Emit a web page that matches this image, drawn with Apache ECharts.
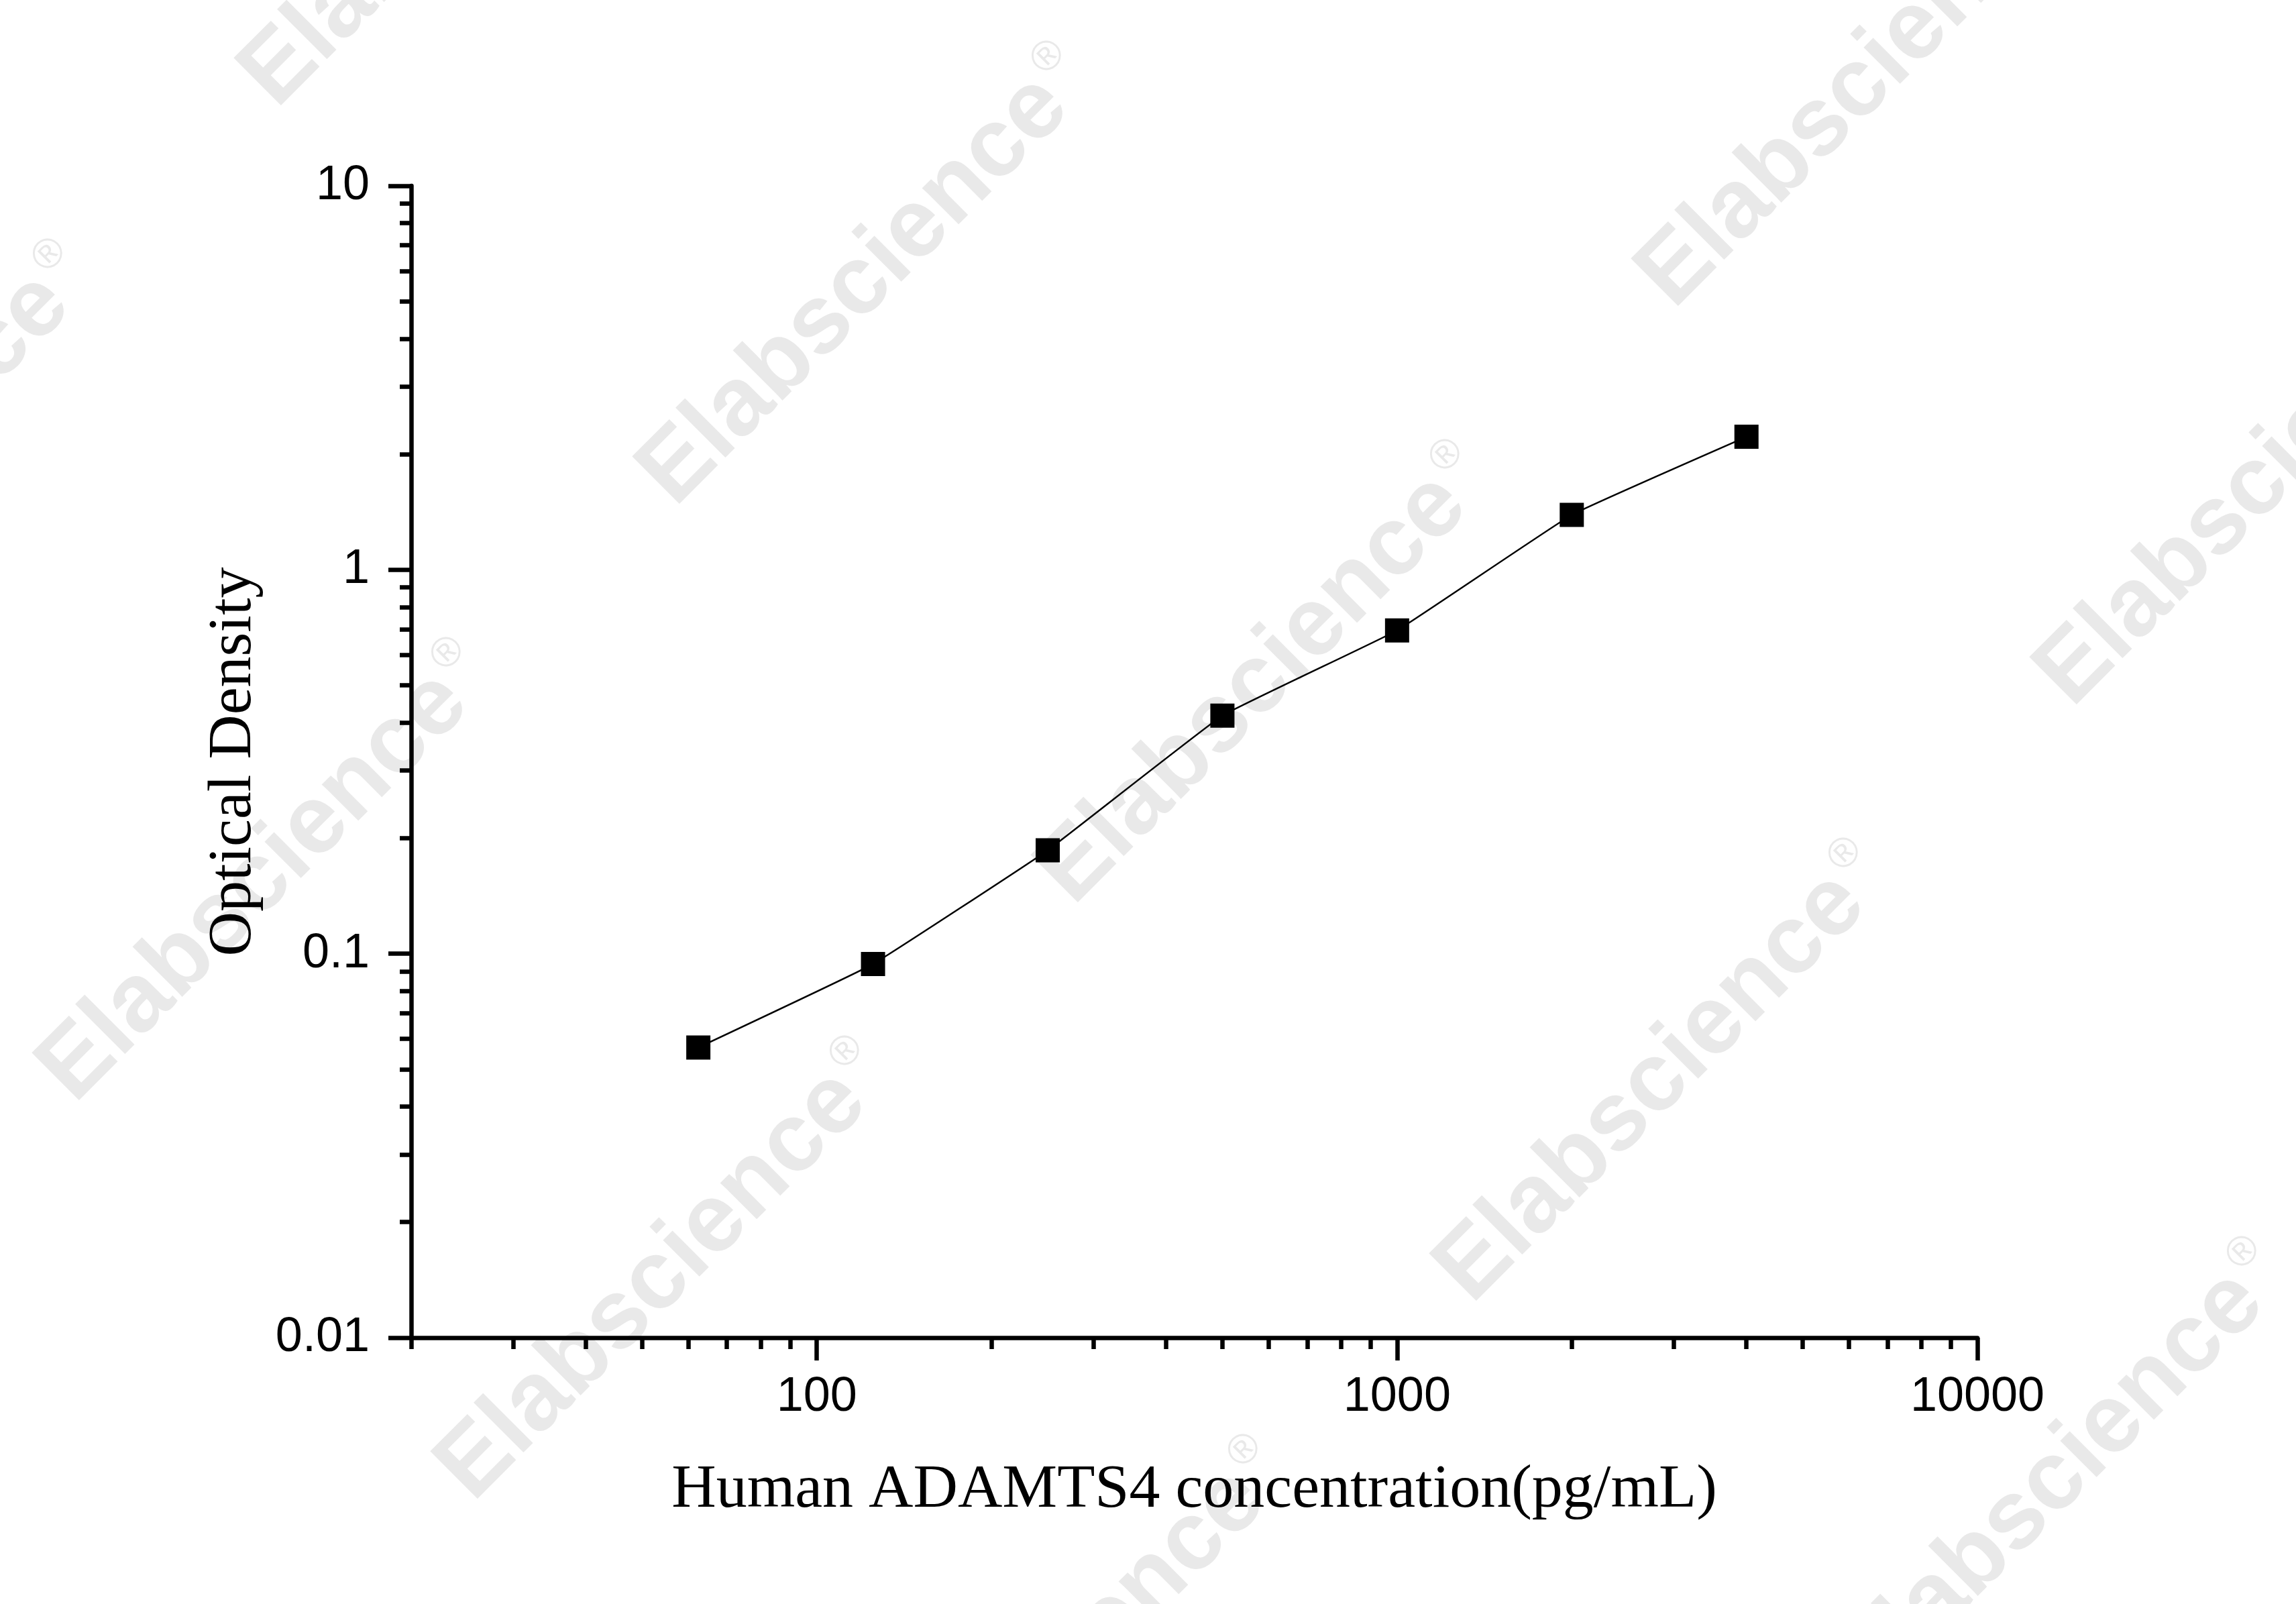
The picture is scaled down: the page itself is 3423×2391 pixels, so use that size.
<!DOCTYPE html>
<html>
<head>
<meta charset="utf-8">
<script src="https://cdn.jsdelivr.net/npm/echarts@6/dist/echarts.min.js"></script>
<style>
  html, body { margin: 0; padding: 0; background: #fff; }
  #chart { width: 3423px; height: 2391px; }
</style>
</head>
<body>
<div id="chart"></div>
<script>
// standard curve
const concentrations = [62.5, 125, 250, 500, 1000, 2000, 4000];
const opticalDensity = [0.057, 0.094, 0.186, 0.417, 0.695, 1.39, 2.22];

// tick values
const xMajorTicks = [100, 1000, 10000];
const xMinorTicks = [20, 30, 40, 50, 60, 70, 80, 90, 200, 300, 400, 500, 600, 700, 800, 900,
  2000, 3000, 4000, 5000, 6000, 7000, 8000, 9000];
const yMajorTicks = [0.01, 0.1, 1, 10];
const yMinorTicks = [0.02, 0.03, 0.04, 0.05, 0.06, 0.07, 0.08, 0.09, 0.2, 0.3, 0.4, 0.5, 0.6, 0.7, 0.8, 0.9,
  2, 3, 4, 5, 6, 7, 8, 9];

const xName = 'Human ADAMTS4 concentration(pg/mL)';
const yName = 'Optical Density';
const watermark = 'Elabscience';

const SANS = 'Arial, "Liberation Sans", sans-serif';
const SERIF = '"Times New Roman", "Liberation Serif", serif';
const AXIS_W = 6.5;

// watermark grid, repeated diagonally
const marks = [];
for (let k = -1; k <= 2; k++) {
  for (let i = -1; i <= 4; i++) {
    marks.push({
      type: 'text',
      x: -196 + k * 1489 + i * 594,
      y: 709 - k * 295 + i * 594,
      rotation: Math.PI / 4,
      z: 0,
      silent: true,
      style: {
        text: '{a|' + watermark + '}{b|®}',
        align: 'center',
        verticalAlign: 'middle',
        rich: {
          a: { fontSize: 145, fontWeight: 'bold', fontFamily: SANS, fill: '#e9e9e9' },
          b: { fontSize: 62, fontFamily: SANS, fill: '#e9e9e9', verticalAlign: 'top', padding: [0, 0, 60, 8] }
        }
      }
    });
  }
}

const chart = echarts.init(document.getElementById('chart'));

const minorAxis = {
  type: 'log',
  logBase: 10,
  axisLine: { show: false },
  axisLabel: { show: false },
  splitLine: { show: false },
  axisTick: { show: true, length: 17, inside: false, lineStyle: { color: '#000', width: AXIS_W } }
};

chart.setOption({
  animation: false,
  backgroundColor: '#fff',
  graphic: { elements: marks },
  grid: { left: 613, top: 277, width: 2335, height: 1717, containLabel: false },
  xAxis: [
    {
      type: 'log',
      logBase: 10,
      min: 20,
      max: 10000,
      position: 'bottom',
      name: xName,
      nameLocation: 'middle',
      nameGap: 182,
      nameTextStyle: { fontFamily: SERIF, fontSize: 92, color: '#000' },
      axisLine: { show: true, lineStyle: { color: '#000', width: AXIS_W } },
      axisTick: { show: true, length: 34, customValues: xMajorTicks, lineStyle: { color: '#000', width: AXIS_W } },
      axisLabel: { customValues: xMajorTicks, margin: 53, fontFamily: SANS, fontSize: 72, color: '#000',
        formatter: v => String(v) },
      splitLine: { show: false }
    },
    Object.assign({}, minorAxis, {
      min: 20, max: 10000, position: 'bottom',
      axisTick: Object.assign({}, minorAxis.axisTick, { customValues: xMinorTicks })
    })
  ],
  yAxis: [
    {
      type: 'log',
      logBase: 10,
      min: 0.01,
      max: 10,
      position: 'left',
      name: yName,
      nameLocation: 'middle',
      nameGap: 218,
      nameTextStyle: { fontFamily: SERIF, fontSize: 92, color: '#000' },
      axisLine: { show: true, lineStyle: { color: '#000', width: AXIS_W } },
      axisTick: { show: true, length: 34, customValues: yMajorTicks, lineStyle: { color: '#000', width: AXIS_W } },
      axisLabel: { customValues: yMajorTicks, margin: 62, fontFamily: SANS, fontSize: 72, color: '#000',
        formatter: v => String(v) },
      splitLine: { show: false }
    },
    Object.assign({}, minorAxis, {
      min: 0.01, max: 10, position: 'left',
      axisTick: Object.assign({}, minorAxis.axisTick, { customValues: yMinorTicks })
    })
  ],
  series: [
    {
      type: 'line',
      xAxisIndex: 0,
      yAxisIndex: 0,
      data: concentrations.map((c, i) => [c, opticalDensity[i]]),
      smooth: 0.08,
      symbol: 'rect',
      symbolSize: 36,
      itemStyle: { color: '#000' },
      lineStyle: { color: '#000', width: 2.5 },
      z: 5
    }
  ]
});
</script>
</body>
</html>
